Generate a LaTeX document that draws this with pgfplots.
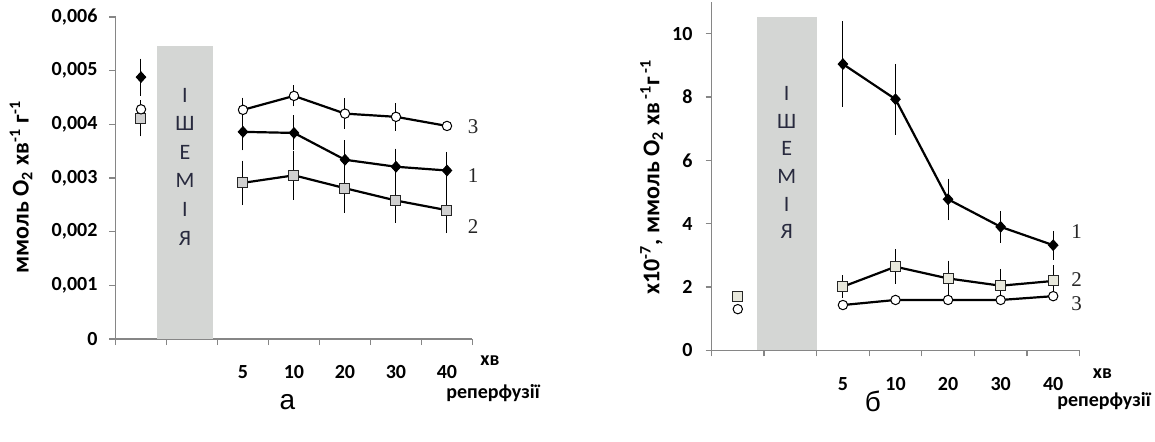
\documentclass[border=0pt]{standalone}
\usepackage{fontspec}
\setmainfont{Carlito}
\newfontfamily\numfont{Liberation Serif}
\newfontfamily\arialfont{Liberation Sans}
\usepackage{pgfplots}
\pgfplotsset{compat=1.18}

\definecolor{bandgray}{RGB}{212,214,212}
\definecolor{sqA}{RGB}{208,208,208}
\definecolor{sqB}{RGB}{232,232,220}
\definecolor{axisgray}{RGB}{134,134,134}
\definecolor{lettercol}{RGB}{40,42,62}

\pgfplotsset{
  panel/.style={
    scale only axis, anchor=south west, clip=false,
    xmin=0.5, xmax=7.5, ymin=0,
    axis lines=left,
    axis line style={-, draw=axisgray, line width=0.6pt},
    tick align=outside, major tick length=3pt, minor tick length=3pt,
    every tick/.style={draw=axisgray, line width=0.6pt},
    major x tick style={draw=none},
    xtick={3,4,5,6,7}, xticklabels={5,10,20,30,40},
    minor xtick={0.5,1.5,...,7.5},
    tick label style={font=\bfseries\fontsize{10}{12}\selectfont},
    /pgf/number format/assume math mode=true,
    xticklabel style={anchor=center, inner sep=0pt, yshift=-13.75pt},
    scaled y ticks=false,
  },
  eb/.style={
    error bars/y dir=both, error bars/y explicit,
    error bars/error bar style={line width=0.5pt, solid, black},
    error bars/error mark options={black, mark size=2.3pt, line width=0.5pt},
  },
  s1/.style={eb, black, line width=1.1pt, mark=diamond*, mark size=2.6pt,
    mark options={solid, fill=black, xscale=1.2, line width=0.5pt}},
  s2/.style={eb, black, line width=1.1pt, mark=square*, mark size=2.5pt,
    mark options={solid, fill=#1, draw=black!85, line width=0.5pt}},
  s3/.style={eb, black, line width=1.1pt, mark=*, mark size=2.35pt,
    mark options={solid, fill=white, draw=black, line width=0.5pt}},
}

\begin{document}
\begin{tikzpicture}
\useasboundingbox (0,0) rectangle (577.5pt,220.5pt);

% ---------------- panel a ----------------
\begin{axis}[panel, at={(57.75pt,51pt)},
  width=178.5pt, height=161pt, ymax=0.006,
  ytick={0,0.001,0.002,0.003,0.004,0.005,0.006},
  yticklabels={0,{0,001},{0,002},{0,003},{0,004},{0,005},{0,006}},
  yticklabel style={xshift=-2.5pt}]
\addplot[fill=bandgray, draw=none] coordinates
  {(1.315,0) (2.415,0) (2.415,0.00546) (1.315,0.00546)} -- cycle;
% control
\addplot[s1, only marks] coordinates {(1,0.00488) +- (0,0.00026)};
\addplot[s2=sqA, only marks] coordinates {(1,0.00411) +- (0,0.00025)};
\addplot[s3, only marks] coordinates {(1,0.00428) +- (0,0)};
% reperfusion
\addplot[s1] coordinates {
  (3,0.00386) +- (0,0.00026)
  (4,0.00384) +- (0,0.00024)
  (5,0.00334) +- (0,0.00028)
  (6,0.00321) +- (0,0.00025)
  (7,0.00314) +- (0,0.00026)};
\addplot[s2=sqA] coordinates {
  (3,0.00291) +- (0,0.00033)
  (4,0.00305) +- (0,0.00037)
  (5,0.00281) +- (0,0.00037)
  (6,0.00258) +- (0,0.00033)
  (7,0.00240) +- (0,0.00034)};
\addplot[s3] coordinates {
  (3,0.00427) +- (0,0.00014)
  (4,0.00453) +- (0,0.00011)
  (5,0.00420) +- (0,0.00020)
  (6,0.00414) +- (0,0.00017)
  (7,0.00397) +- (0,0)};
\end{axis}

% ---------------- panel b ----------------
\begin{axis}[panel, at={(355.75pt,45.35pt)},
  width=184pt, height=174.15pt, ymax=11,
  ytick={0,2,4,6,8,10},
  yticklabel style={xshift=-3pt}]
\addplot[fill=bandgray, draw=none] coordinates
  {(1.36,0) (2.5,0) (2.5,10.52) (1.36,10.52)} -- cycle;
% control
\addplot[s3, only marks] coordinates {(1,1.30) +- (0,0)};
\addplot[s2=sqB, only marks] coordinates {(1,1.69) +- (0,0)};
% reperfusion
\addplot[s3] coordinates {
  (3,1.43) +- (0,0)
  (4,1.59) +- (0,0)
  (5,1.59) +- (0,0)
  (6,1.59) +- (0,0)
  (7,1.71) +- (0,0)};
\addplot[s2=sqB] coordinates {
  (3,2.01) +- (0,0.21)
  (4,2.64) +- (0,0.40)
  (5,2.27) +- (0,0.42)
  (6,2.04) +- (0,0.39)
  (7,2.19) +- (0,0.35)};
\addplot[s1] coordinates {
  (3,9.04) +- (0,1.21)
  (4,7.93) +- (0,0.97)
  (5,4.77) +- (0,0.51)
  (6,3.90) +- (0,0.36)
  (7,3.32) +- (0,0.31)};
\end{axis}

% text placed in reference pixel coordinates (origin top left)
\begin{scope}[x=0.5pt, y=-0.5pt, yshift=220.5pt]
% axis titles
\node[rotate=90, font=\bfseries\fontsize{12}{14}\selectfont] at (21,187)
  {ммоль O\textsubscript{2} хв\textsuperscript{-1} г\textsuperscript{-1}};
\node[rotate=90, font=\bfseries\fontsize{12}{14}\selectfont] at (651.5,177)
  {x10\textsuperscript{-7}, ммоль O\textsubscript{2} хв\textsuperscript{ -1}г\textsuperscript{ -1}};

% ischaemia band text
\foreach \l [count=\i from 0] in {І,Ш,Е,М,І,Я}
  \node[text=lettercol, font=\fontsize{11}{13}\selectfont] at (185,{95+28.6*\i}) {\l};
\foreach \l [count=\i from 0] in {І,Ш,Е,М,І,Я}
  \node[text=lettercol, font=\fontsize{11}{13}\selectfont] at (786.7,{93.3+27.7*\i}) {\l};

% x axis captions
\begin{scope}[font=\bfseries\fontsize{10}{12}\selectfont, inner sep=0pt]
\node at (490,361) {хв};
\node at (493,393) {реперфузії};
\node at (1102.5,374) {хв};
\node at (1104,401) {реперфузії};
\end{scope}

% series numbers
\begin{scope}[font=\numfont\fontsize{10.5}{12}\selectfont, text=black!85]
\node at (473,127) {3};
\node at (473,176) {1};
\node at (473,227) {2};
\node at (1076.7,231.7) {1};
\node at (1076.7,279.3) {2};
\node at (1076.7,304) {3};
\end{scope}

% panel letters
\node[font=\arialfont\fontsize{14}{16}\selectfont] at (287.5,402) {а};
\node[font=\arialfont\fontsize{14}{16}\selectfont] at (873,401) {б};
\end{scope}
\end{tikzpicture}
\end{document}
